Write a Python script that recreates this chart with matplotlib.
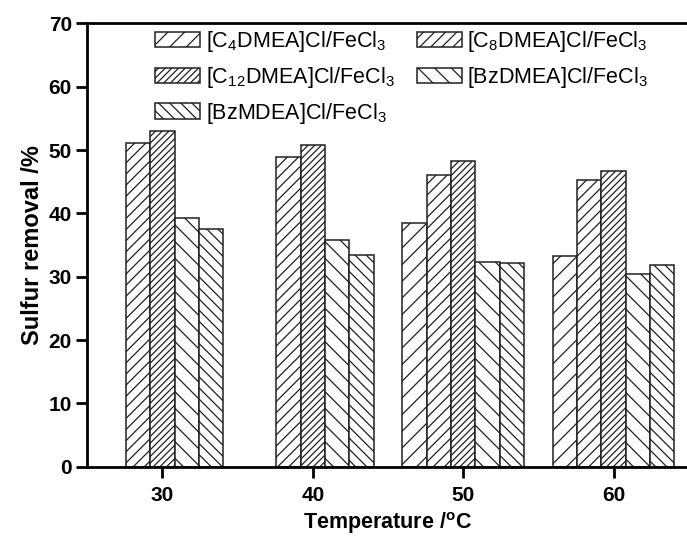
import numpy as np
import matplotlib
matplotlib.use('Agg')
import matplotlib.pyplot as plt

plt.rcParams['font.family'] = ['Liberation Sans', 'DejaVu Sans']
plt.rcParams['mathtext.fontset'] = 'custom'
plt.rcParams['mathtext.rm'] = 'Liberation Sans'
plt.rcParams['hatch.linewidth'] = 0.9
plt.rcParams['hatch.color'] = '#404040'

temperatures = [30, 40, 50, 60]
labels = ['[C$_\\mathregular{4}$DMEA]Cl/FeCl$_\\mathregular{3}$',
          '[C$_\\mathregular{8}$DMEA]Cl/FeCl$_\\mathregular{3}$',
          '[C$_\\mathregular{12}$DMEA]Cl/FeCl$_\\mathregular{3}$',
          '[BzDMEA]Cl/FeCl$_\\mathregular{3}$',
          '[BzMDEA]Cl/FeCl$_\\mathregular{3}$']
c4_dmea = [np.nan, np.nan, 38.4, 33.2]
c8_dmea = [51.1, 48.9, 46.1, 45.2]
c12_dmea = [53.0, 50.8, 48.3, 46.7]
bz_dmea = [39.2, 35.8, 32.3, 30.5]
bz_mdea = [37.6, 33.5, 32.2, 31.8]
hatches = ['//', '///', '/////', '\\\\', '\\\\\\']

series = [c4_dmea, c8_dmea, c12_dmea, bz_dmea, bz_mdea]

fig = plt.figure(figsize=(6.87, 5.5), dpi=100)
ax = fig.add_axes([0.127, 0.1515, 0.8755, 0.806])

width = 1.62
x = np.array(temperatures, dtype=float)
bars = []
for i, vals in enumerate(series):
    b = ax.bar(x + (i - 2) * width, vals, width, color='white', edgecolor='#202020',
               linewidth=1.1, hatch=hatches[i], label=labels[i])
    bars.append(b)

ax.set_xlim(25, 65)
ax.set_ylim(0, 70)
ax.set_xticks(temperatures)
ax.set_yticks(range(0, 71, 10))

for s in ['left', 'bottom', 'top', 'right']:
    ax.spines[s].set_linewidth(2)
ax.tick_params(axis='both', direction='out', length=8, width=2, labelsize=15,
               top=False, right=False)
ax.tick_params(axis='x', pad=6)
ax.tick_params(axis='y', pad=3)
for lab in ax.get_xticklabels() + ax.get_yticklabels():
    lab.set_fontweight('bold')

ax.set_xlabel('Temperature /$^\\mathregular{o}$C', fontsize=15.5, fontweight='bold', labelpad=4)
ax.set_ylabel('Sulfur removal /%', fontsize=17, fontweight='bold', labelpad=3)

# row-major legend order in two columns
order = [0, 2, 4, 1, 3]
ax.legend([bars[k] for k in order], [labels[k] for k in order], ncol=2,
          loc='upper left', bbox_to_anchor=(155 / 687, 1 - 29 / 550),
          bbox_transform=fig.transFigure, frameon=False, fontsize=15.5,
          handlelength=2.1, handleheight=0.7, handletextpad=0.25,
          columnspacing=1.05, labelspacing=0.5, borderpad=0, borderaxespad=0)

fig.savefig('out.png', dpi=100)
